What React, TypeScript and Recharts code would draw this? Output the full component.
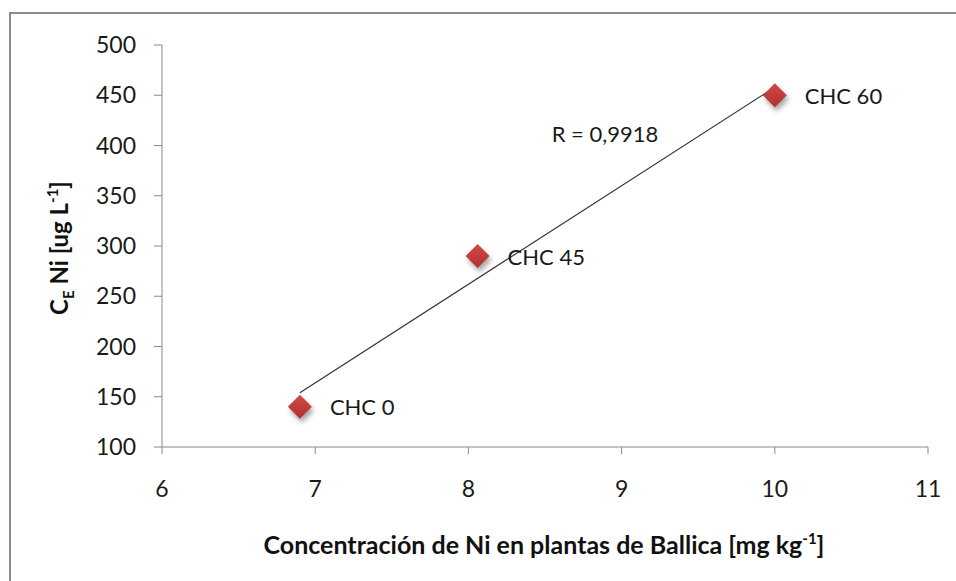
import React from "react";
import {
  ScatterChart,
  Scatter,
  XAxis,
  YAxis,
  ReferenceLine,
  LabelList,
} from "recharts";

// Ni in ryegrass (mg/kg) vs C_E Ni (ug/L)
const treatments = ["CHC 0", "CHC 45", "CHC 60"];
const niPlant = [6.9, 8.06, 10.0];
const ceNi = [140, 290, 450];

// fitted line ends
const trendX = [6.9, 10.0];
const trendY = [154, 458];

const xTicks = [6, 7, 8, 9, 10, 11];
const yTicks = [100, 150, 200, 250, 300, 350, 400, 450, 500];

const FONT = "Lato, 'Open Sans', sans-serif";
const AXIS_COLOR = "#8a8a8a";

const points = treatments.map((name, i) => ({
  name,
  x: niPlant[i],
  y: ceNi[i],
}));

function Diamond(props: any) {
  const { cx, cy } = props;
  const r = 12;
  const pts = `${cx},${cy - r} ${cx + r},${cy} ${cx},${cy + r} ${cx - r},${cy}`;
  const shadow = `${cx + 2},${cy - r + 4} ${cx + r + 2},${cy + 4} ${cx + 2},${cy + r + 4} ${cx - r + 2},${cy + 4}`;
  return (
    <g>
      <defs>
        <linearGradient id="dmGrad" x1="0" y1="0" x2="0" y2="1">
          <stop offset="0%" stopColor="#d24a47" />
          <stop offset="100%" stopColor="#b0302e" />
        </linearGradient>
        <filter id="dmBlur" x="-50%" y="-50%" width="200%" height="200%">
          <feGaussianBlur stdDeviation="2.5" />
        </filter>
      </defs>
      <polygon points={shadow} fill="rgba(0,0,0,0.35)" filter="url(#dmBlur)" />
      <polygon points={pts} fill="url(#dmGrad)" />
    </g>
  );
}

function PointLabel(props: any) {
  const { x, y, width, height, value } = props;
  return (
    <text
      x={x + width / 2 + 30}
      y={y + height / 2}
      dominantBaseline="central"
      fill="#1a1a1a"
      fontSize={22}
      fontFamily={FONT}
    >
      {value}
    </text>
  );
}

export default function App() {
  return (
    <div
      style={{
        position: "absolute",
        left: 0,
        top: 0,
        width: 956,
        height: 581,
        background: "#fff",
        overflow: "hidden",
      }}
    >
      <div
        style={{
          position: "absolute",
          left: 9,
          top: 12,
          width: 947,
          height: 569,
          borderLeft: "2px solid #8c8c8c",
          borderTop: "2px solid #8c8c8c",
        }}
      />
      <div style={{ position: "absolute", left: 0, top: 0 }}>
        <ScatterChart
          width={956}
          height={581}
          margin={{ top: 45, right: 28, bottom: 74, left: 82 }}
        >
          <XAxis
            type="number"
            dataKey="x"
            domain={[6, 11]}
            ticks={xTicks}
            height={60}
            tickSize={7}
            tickMargin={27}
            axisLine={{ stroke: AXIS_COLOR }}
            tickLine={{ stroke: AXIS_COLOR }}
            tick={{ fill: "#1a1a1a", fontSize: 23, fontFamily: FONT }}
          />
          <YAxis
            type="number"
            dataKey="y"
            domain={[100, 500]}
            ticks={yTicks}
            width={80}
            tickSize={8}
            tickMargin={18}
            axisLine={{ stroke: AXIS_COLOR }}
            tickLine={{ stroke: AXIS_COLOR }}
            tick={{ fill: "#1a1a1a", fontSize: 23, fontFamily: FONT }}
          />
          <ReferenceLine
            segment={[
              { x: trendX[0], y: trendY[0] },
              { x: trendX[1], y: trendY[1] },
            ]}
            stroke="#333"
            strokeWidth={1.2}
            ifOverflow="visible"
          />
          <Scatter data={points} shape={<Diamond />} isAnimationActive={false}>
            <LabelList dataKey="name" content={<PointLabel />} />
          </Scatter>
        </ScatterChart>
      </div>
      <svg
        width={956}
        height={581}
        style={{ position: "absolute", left: 0, top: 0, pointerEvents: "none" }}
      >
        <text
          x={605}
          y={133}
          textAnchor="middle"
          dominantBaseline="central"
          fill="#1a1a1a"
          fontSize={22}
          fontFamily={FONT}
        >
          R = 0,9918
        </text>
        <text
          x={544}
          y={554}
          textAnchor="middle"
          fill="#111"
          fontSize={25}
          fontWeight="bold"
          fontFamily={FONT}
        >
          Concentración de Ni en plantas de Ballica [mg kg
          <tspan fontSize={15} dy={-10}>-1</tspan>
          <tspan dy={10}>]</tspan>
        </text>
        <text
          transform="rotate(-90, 68, 248)"
          x={68}
          y={248}
          textAnchor="middle"
          fill="#111"
          fontSize={24}
          fontWeight="bold"
          fontFamily={FONT}
        >
          C<tspan fontSize={15} dy={6}>E</tspan>
          <tspan dy={-6}> Ni [ug L</tspan>
          <tspan fontSize={15} dy={-10}>-1</tspan>
          <tspan dy={10}>]</tspan>
        </text>
      </svg>
    </div>
  );
}
